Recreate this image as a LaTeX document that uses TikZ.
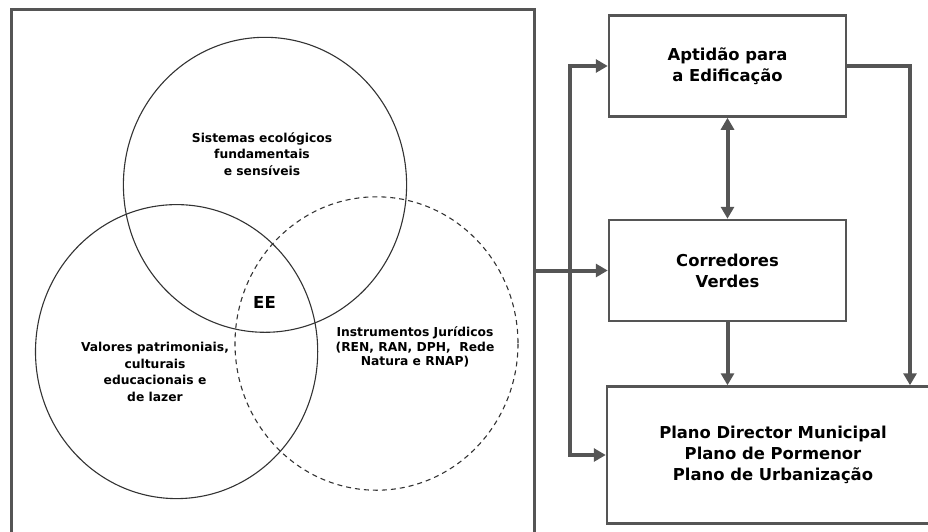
\documentclass[tikz,border=0pt]{standalone}
\usepackage{fontspec}
\setmainfont{DejaVu Sans}
\usepackage{tikz}
\usetikzlibrary{positioning,arrows.meta}
\usepackage{xcolor}
\definecolor{linegray}{HTML}{555555}
\definecolor{ringgray}{HTML}{333333}

\begin{document}
\begin{tikzpicture}[x=1pt,y=-1pt,
% estilos
box/.style={rectangle, draw=linegray, line width=2.5pt, minimum width=237pt, minimum height=101pt, align=center, font=\fontsize{16.4pt}{21pt}\selectfont\bfseries},
bigbox/.style={box, minimum width=332pt, minimum height=137pt},
ring/.style={draw=ringgray, line width=1.1pt},
venntext/.style={align=center, font=\fontsize{12.3pt}{16.5pt}\selectfont\bfseries},
flow/.style={draw=linegray, line width=4pt},
>={Triangle[length=12pt,width=13pt]},
]
\useasboundingbox (0,0) rectangle (928,531);

% caixa do diagrama de Venn
\node[rectangle, draw=linegray, line width=3pt, minimum width=523pt, minimum height=570pt, anchor=north west] (venn) at (10,7.5) {};

% circulos
\draw[ring] (265,184.8) ellipse [x radius=141.6, y radius=147.5];
\draw[ring] (176.6,351.6) ellipse [x radius=141.1, y radius=147];
\draw[ring, dash pattern=on 5pt off 4pt] (376.5,343.5) ellipse [x radius=141.5, y radius=146.7];

% textos
\node[venntext] (eco)  at (262,154) {Sistemas ecológicos\\fundamentais\\e sensíveis};
\node[venntext] (val)  at (155,372) {Valores patrimoniais,\\culturais\\educacionais e\\de lazer};
\node[venntext, font=\fontsize{12.3pt}{14.5pt}\selectfont\bfseries] (jur) at (415,347) {Instrumentos Jurídicos\\(REN, RAN, DPH,~ Rede\\Natura e RNAP)};
\node[font=\fontsize{16.5pt}{18pt}\selectfont\bfseries] (ee) at (264.5,302) {EE};

% caixas
\node[box] (aed) at (727.5,66) {Aptidão para\\a Edificação};
\node[box, below=101pt of aed] (cv) {Corredores\\Verdes};
\node[bigbox, below right=63pt and -2pt of cv.south west] (plano) {Plano Director Municipal\\Plano de Pormenor\\Plano de Urbanização};

% ligacoes
\coordinate (trunk) at (570,0);
\coordinate (drop) at (910,0);
\draw[flow,->] (venn.east |- cv.west) -- (cv.west);
\draw[flow,->] (trunk |- cv.west) |- (aed.west);
\draw[flow,->] (trunk |- cv.west) |- (plano.west);
\draw[flow,<->] (aed.south) -- (cv.north);
\draw[flow,->] (cv.south) -- (cv.south |- plano.north);
\draw[flow,->] (aed.east) -| (drop |- plano.north);

\end{tikzpicture}
\end{document}
